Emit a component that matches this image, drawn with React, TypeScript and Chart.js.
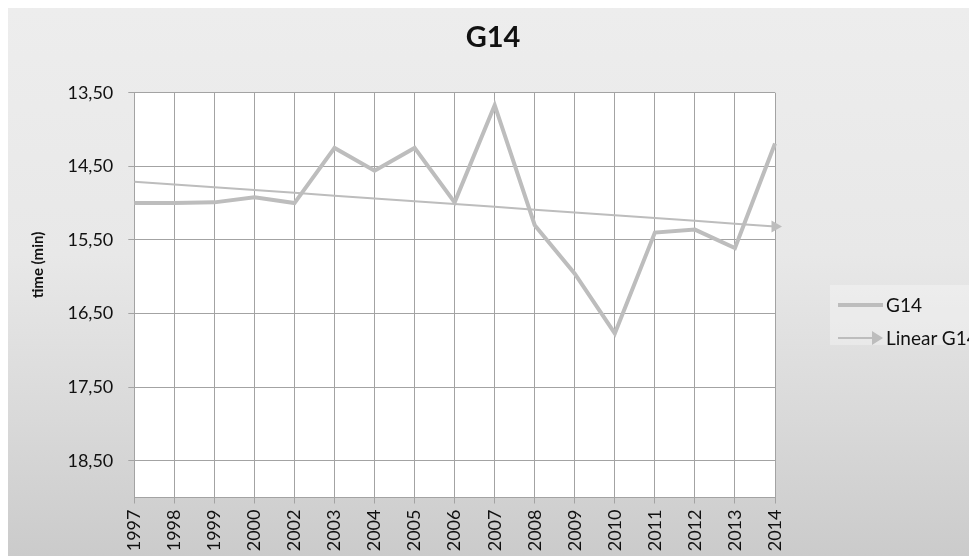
import React, { useEffect, useRef } from 'react';
import { Chart, registerables } from 'chart.js';

Chart.register(...registerables);

const years = ['1997', '1998', '1999', '2000', '2002', '2003', '2004', '2005', '2006', '2007', '2008', '2009', '2010', '2011', '2012', '2013', '2014'];
const g14Times = [15.0, 15.0, 14.99, 14.92, 15.0, 14.25, 14.56, 14.25, 14.99, 13.67, 15.3, 15.96, 16.77, 15.4, 15.36, 15.61, 14.19];
const yTickValues = [13.5, 14.5, 15.5, 16.5, 17.5, 18.5];
const yMin = 13.5;
const yMax = 19.0;
const chartTitle = 'G14';
const yAxisTitle = 'time (min)';
const seriesName = 'G14';
const trendName = 'Linear G14';

const FONT = 'Lato, "Open Sans", sans-serif';
const LINE_COLOR = '#bdbdbd';
const GRID_COLOR = '#a3a3a3';

function linearTrend(values: number[]): number[] {
  const n = values.length;
  const mx = (n - 1) / 2;
  const my = values.reduce((a, b) => a + b, 0) / n;
  let sxy = 0;
  let sxx = 0;
  values.forEach((v, i) => {
    sxy += (i - mx) * (v - my);
    sxx += (i - mx) * (i - mx);
  });
  const slope = sxy / sxx;
  return values.map((_, i) => my + slope * (i - mx));
}

const decorations = {
  id: 'decorations',
  beforeDraw(chart: any) {
    const { ctx, chartArea } = chart;
    ctx.save();
    ctx.fillStyle = '#ffffff';
    ctx.fillRect(chartArea.left, chartArea.top, chartArea.right - chartArea.left, chartArea.bottom - chartArea.top);
    ctx.restore();
  },
  afterDraw(chart: any) {
    const { ctx } = chart;
    ctx.save();
    ctx.fillStyle = '#111';
    ctx.font = `bold 29px ${FONT}`;
    ctx.textAlign = 'center';
    ctx.textBaseline = 'middle';
    ctx.fillText(chartTitle, 485, 30);
    ctx.translate(30, 257);
    ctx.rotate(-Math.PI / 2);
    ctx.font = `bold 15px ${FONT}`;
    ctx.fillText(yAxisTitle, 0, 0);
    ctx.restore();
  },
};

export default function App() {
  const canvasRef = useRef<HTMLCanvasElement>(null);

  useEffect(() => {
    document.documentElement.style.overflow = 'hidden';
    const trend = linearTrend(g14Times);
    const chart = new Chart(canvasRef.current!, {
      type: 'line',
      data: {
        labels: years,
        datasets: [
          {
            label: seriesName,
            data: g14Times,
            borderColor: LINE_COLOR,
            borderWidth: 4,
            pointRadius: 0,
            tension: 0,
            fill: false,
          },
          {
            label: trendName,
            data: trend,
            borderColor: LINE_COLOR,
            backgroundColor: LINE_COLOR,
            borderWidth: 2,
            pointStyle: 'triangle',
            pointRotation: 90,
            pointRadius: trend.map((_, i) => (i === trend.length - 1 ? 7 : 0)),
            pointBorderWidth: 0,
            clip: false as any,
            tension: 0,
            fill: false,
          },
        ],
      },
      options: {
        responsive: false,
        animation: false,
        devicePixelRatio: 1,
        layout: { padding: { left: 0, right: 202, top: 84.7, bottom: 0 } },
        plugins: {
          legend: { display: false },
          tooltip: { enabled: false },
          title: { display: false },
        },
        scales: {
          x: {
            type: 'category',
            offset: false,
            grid: { color: GRID_COLOR, lineWidth: 1, tickLength: 6, tickColor: GRID_COLOR },
            border: { color: GRID_COLOR, width: 1 },
            ticks: {
              autoSkip: false,
              maxRotation: 90,
              minRotation: 90,
              padding: 6,
              color: '#111',
              font: { family: FONT, size: 18 },
            },
            afterFit(scale: any) {
              scale.height = 58.5;
            },
          },
          y: {
            reverse: true,
            min: yMin,
            max: yMax,
            grid: { color: GRID_COLOR, lineWidth: 1, tickLength: 6, tickColor: GRID_COLOR },
            border: { color: GRID_COLOR, width: 1 },
            afterBuildTicks(scale: any) {
              scale.ticks = yTickValues.map((v) => ({ value: v }));
            },
            ticks: {
              padding: 15,
              color: '#111',
              font: { family: FONT, size: 18 },
              callback: (v: any) => Number(v).toFixed(2).replace('.', ','),
            },
            afterFit(scale: any) {
              scale.width = 126.3;
            },
          },
        },
      },
      plugins: [decorations],
    });
    return () => chart.destroy();
  }, []);

  return (
    <div
      style={{
        position: 'relative',
        width: 969,
        height: 548,
        overflow: 'hidden',
        background: 'linear-gradient(to bottom, #ededed 0%, #e8e8e8 45%, #d9d9d9 75%, #cbcbcb 100%)',
        fontFamily: FONT,
      }}
    >
      <canvas ref={canvasRef} width={969} height={548} style={{ display: 'block', width: 969, height: 548 }} />
      <div
        style={{
          position: 'absolute',
          left: 822,
          top: 277,
          width: 160,
          height: 60,
          background: 'rgba(255,255,255,0.3)',
          fontSize: 19,
          color: '#111',
          whiteSpace: 'nowrap',
        }}
      >
        <div style={{ position: 'absolute', left: 8, top: 18, width: 45, height: 4, background: LINE_COLOR }} />
        <div style={{ position: 'absolute', left: 56, top: 7, lineHeight: '26px' }}>{seriesName}</div>
        <div style={{ position: 'absolute', left: 8, top: 52, width: 36, height: 2, background: LINE_COLOR }} />
        <div
          style={{
            position: 'absolute',
            left: 42,
            top: 46,
            width: 0,
            height: 0,
            borderTop: '7px solid transparent',
            borderBottom: '7px solid transparent',
            borderLeft: `11px solid ${LINE_COLOR}`,
          }}
        />
        <div style={{ position: 'absolute', left: 56, top: 40, lineHeight: '26px' }}>{trendName}</div>
      </div>
    </div>
  );
}
